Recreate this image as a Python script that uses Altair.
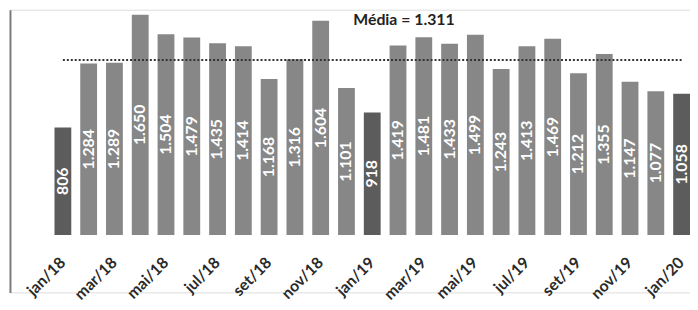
import altair as alt
import pandas as pd

months = ["jan/18", "fev/18", "mar/18", "abr/18", "mai/18", "jun/18", "jul/18",
          "ago/18", "set/18", "out/18", "nov/18", "dez/18", "jan/19", "fev/19",
          "mar/19", "abr/19", "mai/19", "jun/19", "jul/19", "ago/19", "set/19",
          "out/19", "nov/19", "dez/19", "jan/20"]
values = [806, 1284, 1289, 1650, 1504, 1479, 1435, 1414, 1168, 1316, 1604, 1101,
          918, 1419, 1481, 1433, 1499, 1243, 1413, 1469, 1212, 1355, 1147, 1077, 1058]
tick_labels = ["jan/18", "mar/18", "mai/18", "jul/18", "set/18", "nov/18", "jan/19",
               "mar/19", "mai/19", "jul/19", "set/19", "nov/19", "jan/20"]
mean_value = 1311
mean_label = "Média = 1.311"

df = pd.DataFrame({"mes": months, "valor": values})
df["grupo"] = ["jan" if m.startswith("jan") else "outro" for m in months]

mean_df = pd.DataFrame({"inicio": [months[0]], "fim": [months[-1]], "media": [mean_value],
                        "texto": [mean_label], "pos": ["fev/19"], "ypos": [1613]})

FONT = "Lato"

xscale = alt.Scale(domain=months, paddingInner=0.348, paddingOuter=0.863, align=1)
yscale = alt.Scale(domain=[-429, 1687], nice=False, zero=False)

x_axis = alt.Axis(values=tick_labels, labelAngle=-45, labelAlign="right",
                  labelBaseline="middle", labelFont=FONT, labelFontSize=16,
                  labelFontWeight="bold", labelColor="#2a2a2a", ticks=False,
                  tickSize=0, domain=False, labelPadding=25, offset=-58,
                  title=None, grid=False)
y_axis = alt.Axis(labels=False, ticks=False, grid=False, title=None,
                  domain=True, domainColor="#7a7a7a", domainWidth=2)

base = alt.Chart(df)

bars = base.mark_bar().encode(
    x=alt.X("mes:N", scale=xscale, axis=x_axis),
    y=alt.Y("valor:Q", scale=yscale, axis=y_axis),
    color=alt.Color("grupo:N", scale=alt.Scale(domain=["jan", "outro"],
                                               range=["#5c5c5c", "#878787"]),
                    legend=None),
)

labels = base.transform_calculate(
    meio="datum.valor / 2",
    rotulo="replace(format(datum.valor, ','), ',', '.')",
).mark_text(angle=270, color="white", font=FONT, fontSize=16, fontWeight="bold",
            align="center", baseline="middle").encode(
    x=alt.X("mes:N", scale=xscale),
    y=alt.Y("meio:Q", scale=yscale),
    text="rotulo:N",
)

rule = alt.Chart(mean_df).mark_rule(color="#333333", strokeWidth=2,
                                    strokeDash=[2, 2]).encode(
    x=alt.X("inicio:N", scale=xscale),
    x2="fim:N",
    y=alt.Y("media:Q", scale=yscale),
)

title = alt.Chart(mean_df).mark_text(font=FONT, fontSize=16, fontWeight="bold",
                                     color="#222222", align="center",
                                     baseline="middle", dx=6).encode(
    x=alt.X("pos:N", scale=xscale),
    y=alt.Y("ypos:Q", scale=yscale),
    text="texto:N",
)

chart = alt.layer(bars, labels, rule, title).properties(
    width=688, height=286,
    padding={"left": 2, "top": 0, "right": 0, "bottom": 8},
    autosize=alt.AutoSizeParams(type="none"),
).configure_view(stroke=None).configure(background="white")

chart.save("out.html", embed_options={"renderer": "svg", "actions": False})
